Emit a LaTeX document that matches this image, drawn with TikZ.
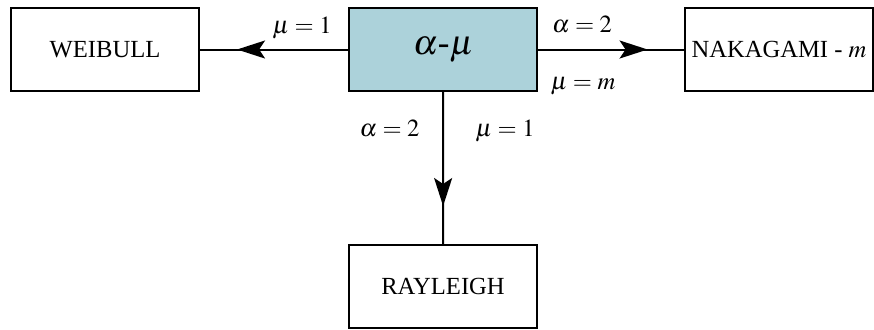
\documentclass[tikz,border=0pt]{standalone}
\usepackage{mathptmx}
\usepackage{fontspec}
\setmainfont{Liberation Serif}
\usetikzlibrary{arrows.meta,decorations.markings}
\definecolor{boxfill}{RGB}{172,210,218}
\begin{document}
\fontsize{12.3}{14}\selectfont
\begin{tikzpicture}[x=0.5pt,y=-0.5pt,
  box/.style={draw, rectangle, line width=1pt, minimum width=94pt, minimum height=41.5pt, inner sep=0pt},
  lbl/.style={anchor=base, inner sep=0pt},
  midarrow/.style={line width=1pt, postaction={decorate}, decoration={markings,
    mark=at position 0.75 with {\arrow{Stealth[length=14pt,width=9pt,inset=3pt]}}}}]
\useasboundingbox (0,0) rectangle (874,329);
\node[box] (weibull) at (105,49.5) {WEIBULL};
\node[box, fill=boxfill] (alphamu) at (443.3,49.5) {\fontsize{17.5}{20}\selectfont$\alpha$-$\mu$};
\node[box] (nakagami) at (779,49.5) {NAKAGAMI - $m$};
\node[box] (rayleigh) at (443,286.5) {RAYLEIGH};

\draw[midarrow] (alphamu) -- (weibull);
\draw[midarrow] (alphamu) -- (nakagami);
\draw[midarrow] (alphamu) -- (rayleigh);

\node[lbl] (muone) at (302,33) {$\mu = 1$};
\node[lbl] (alphatwo) at (582,32) {$\alpha = 2$};
\node[lbl] (mum) at (583,89) {$\mu = m$};
\node[lbl] (alphadown) at (389.5,136) {$\alpha = 2$};
\node[lbl] (mudown) at (505,136) {$\mu = 1$};
\end{tikzpicture}
\end{document}
